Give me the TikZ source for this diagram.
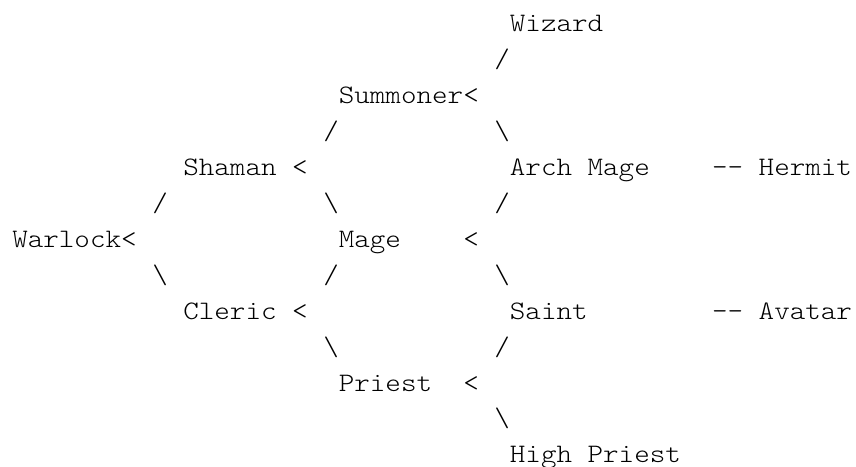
\documentclass[tikz,border=0pt]{standalone}
\usepackage{fontspec}
\newfontfamily\asciifont{lmmonolt10-regular.otf}[FakeStretch=1.1105]
\tikzset{
  txt/.style={anchor=base west, inner sep=0pt, outer sep=0pt, text=black,
    font=\asciifont\fontsize{20pt}{20pt}\selectfont}
}
\newcommand\asciitok[4]{\node[txt] (#1) at ({12.3+#2*15.55},{32+#3*35.9}) {#4};}
\begin{document}
\begin{tikzpicture}[x=0.75pt,y=-0.75pt]
\fill[white] (0,0) rectangle (856,467);
\path[use as bounding box] (0,0) rectangle (856,467);
% line 0
\asciitok{wizard}{32}{0}{Wizard}
% line 1
\asciitok{sumwiz}{31}{1}{/}
% line 2
\asciitok{summoner}{21}{2}{Summoner}
\asciitok{sumlt}{29}{2}{<}
% line 3
\asciitok{shasum}{20}{3}{/}
\asciitok{sumarch}{31}{3}{\textbackslash}
% line 4
\asciitok{shaman}{11}{4}{Shaman}
\asciitok{shalt}{18}{4}{<}
\asciitok{archmage}{32}{4}{Arch Mage}
\asciitok{hermitdash}{45}{4}{\mbox{-}\mbox{-}}
\asciitok{hermit}{48}{4}{Hermit}
% line 5
\asciitok{warsha}{9}{5}{/}
\asciitok{shamage}{20}{5}{\textbackslash}
\asciitok{magearch}{31}{5}{/}
% line 6
\asciitok{warlock}{0}{6}{Warlock}
\asciitok{warlt}{7}{6}{<}
\asciitok{mage}{21}{6}{Mage}
\asciitok{magelt}{29}{6}{<}
% line 7
\asciitok{warcle}{9}{7}{\textbackslash}
\asciitok{clemage}{20}{7}{/}
\asciitok{magesaint}{31}{7}{\textbackslash}
% line 8
\asciitok{cleric}{11}{8}{Cleric}
\asciitok{clelt}{18}{8}{<}
\asciitok{saint}{32}{8}{Saint}
\asciitok{avatardash}{45}{8}{\mbox{-}\mbox{-}}
\asciitok{avatar}{48}{8}{Avatar}
% line 9
\asciitok{clepri}{20}{9}{\textbackslash}
\asciitok{prisaint}{31}{9}{/}
% line 10
\asciitok{priest}{21}{10}{Priest}
\asciitok{prilt}{29}{10}{<}
% line 11
\asciitok{prihigh}{31}{11}{\textbackslash}
% line 12
\asciitok{highpriest}{32}{12}{High Priest}
\end{tikzpicture}
\end{document}
